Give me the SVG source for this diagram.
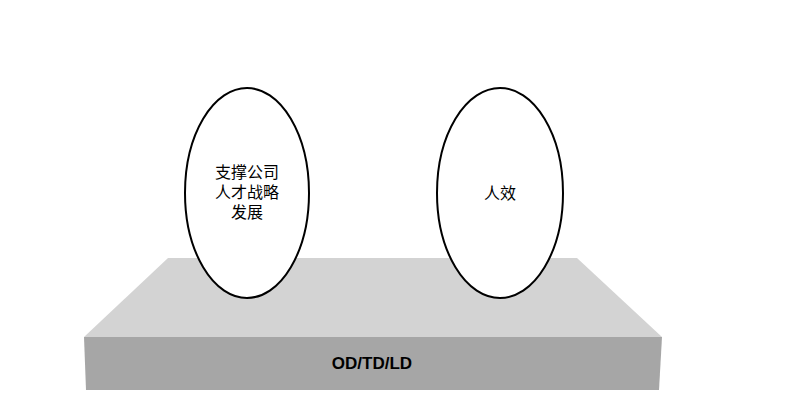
<svg xmlns="http://www.w3.org/2000/svg" width="794" height="417" viewBox="0 0 794 417">
<style>
.node ellipse{fill:#fff;stroke:#000;stroke-width:2}
.t{font-family:"Liberation Sans","Noto Sans CJK SC",sans-serif;font-size:16px;fill:#000;text-anchor:middle}
</style>
<rect width="794" height="417" fill="#fff"/>
<g id="base">
<polygon points="168,258 577,258 662,337 84,337" fill="#d3d3d3"/>
<polygon points="84,337 662,337 659,390 86,390" fill="#a6a6a6"/>
<text class="t" x="372" y="369" style="font-weight:bold;font-size:17px">OD/TD/LD</text>
</g>
<g id="node1" class="node">
<ellipse cx="247" cy="193" rx="62" ry="105"/>
<text class="t" x="247" y="178">支撑公司</text>
<text class="t" x="247" y="198">人才战略</text>
<text class="t" x="247" y="218">发展</text>
</g>
<g id="node2" class="node">
<ellipse cx="500" cy="193" rx="63" ry="105"/>
<text class="t" x="500" y="199">人效</text>
</g>
<g id="connectors"></g>
</svg>
